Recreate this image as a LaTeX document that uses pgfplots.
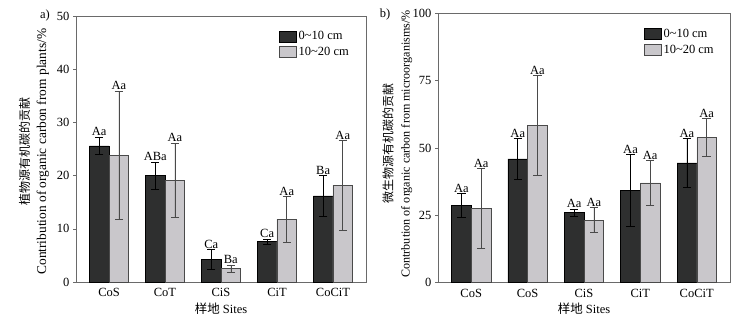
\documentclass[border=0pt]{standalone}
\usepackage{pgfplots}
\pgfplotsset{compat=1.18}
\usepackage{fontspec}
\setmainfont{Liberation Serif}
\newfontfamily\cjk{Noto Sans CJK SC}
\definecolor{darkbar}{HTML}{2E2F2F}
\definecolor{lightbar}{HTML}{C9C7CB}
\definecolor{axisgray}{HTML}{6A6A6A}
\definecolor{errgray}{HTML}{4A4A4A}
\newcommand{\fs}{\fontsize{12.5}{14}\selectfont}
\newcommand{\fl}{\fontsize{13.4}{15}\selectfont}
\newcommand{\flb}{\fontsize{12.1}{14}\selectfont}
\newcommand{\fc}{\cjk\fontsize{12}{15}\selectfont}
\tikzset{lab/.style={above, inner sep=1pt, font=\fs}}
\pgfplotsset{
  myax/.style={
    scale only axis, ybar, bar width=0.35,
    xmin=-0.59, xmax=4.59, ymin=0,
    xtick={0,1,2,3,4}, ytick pos=left,
    tick align=outside, major tick length=3pt,
    x tick style={draw=none},
    y tick style={axisgray, line width=0.5pt},
    axis line style={axisgray, line width=0.6pt},
    font=\fs, tick label style={font=\fs},
    /pgf/number format/assume math mode=true,
    ylabel style={align=center, anchor=center},
    xlabel style={font=\fs, yshift=1pt},
    error bars/y dir=both, error bars/y explicit,
    legend style={draw=none, fill=none, font=\fs, row sep=2pt,
      anchor=north west, inner sep=0pt},
    legend cell align=left,
    legend image code/.code={\draw[#1] (0pt,-5.5pt) rectangle (17pt,5.5pt);},
  },
  darkp/.style={fill=darkbar, draw=black, line width=0.5pt, bar shift=-0.175,
    error bars/error bar style={black, line width=0.6pt},
    error bars/error mark options={rotate=90, mark size=4.2pt, black, line width=0.6pt}},
  lightp/.style={fill=lightbar, draw=errgray, line width=0.5pt, bar shift=0.175,
    error bars/error bar style={errgray, line width=0.6pt},
    error bars/error mark options={rotate=90, mark size=4.2pt, errgray, line width=0.6pt}},
}
\begin{document}
\begin{tikzpicture}
\useasboundingbox (0,0) rectangle (738pt,321pt);
% Panel a
\begin{axis}[myax, at={(76pt,39pt)}, anchor=south west, width=290pt, height=266pt,
  ymax=50, ytick={0,10,20,30,40,50},
  xticklabels={CoS,CoT,CiS,CiT,CoCiT},
  ylabel style={at={(axis description cs:-0.145,0.49)}},
  ylabel={{\fc 植物源有机碳的贡献}\\[3pt]{\fl Contribution of organic carbon from plants/\%}},
  xlabel={{\cjk 样地} Sites},
  legend style={at={(rel axis cs:0.70,0.95)}}]
\addplot[darkp] coordinates {(0,25.6) +- (0,1.6) (1,20.0) +- (0,2.5) (2,4.2) +- (0,1.9) (3,7.6) +- (0,0.5) (4,16.2) +- (0,3.8)};
\addplot[lightp] coordinates {(0,23.8) +- (0,12.1) (1,19.1) +- (0,7.0) (2,2.5) +- (0,0.7) (3,11.8) +- (0,4.3) (4,18.2) +- (0,8.4)};
\legend{0\textasciitilde 10 cm, 10\textasciitilde 20 cm}
\node[lab] at (axis cs:-0.175,27.2) {Aa};
\node[lab] at (axis cs:0.175,35.9) {Aa};
\node[lab] at (axis cs:0.825,22.5) {ABa};
\node[lab] at (axis cs:1.175,26.1) {Aa};
\node[lab] at (axis cs:1.825,6.1) {Ca};
\node[lab] at (axis cs:2.175,3.2) {Ba};
\node[lab] at (axis cs:2.825,8.1) {Ca};
\node[lab] at (axis cs:3.175,16.1) {Aa};
\node[lab] at (axis cs:3.825,20.0) {Ba};
\node[lab] at (axis cs:4.175,26.6) {Aa};
\end{axis}
\node[font=\fs] at (45pt,306pt) {a)};
% Panel b
\begin{axis}[myax, at={(438pt,38.5pt)}, anchor=south west, width=292pt, height=269pt,
  ymax=100, ytick={0,25,50,75,100},
  xticklabels={CoS,CoS,CiS,CiT,CoCiT},
  ylabel style={at={(axis description cs:-0.139,0.515)}},
  ylabel={{\fc 微生物源有机碳的贡献}\\[3pt]{\flb Contrbution of organic carbon from microorganisms/\%}},
  xlabel={{\cjk 样地} Sites},
  legend style={at={(rel axis cs:0.705,0.95)}}]
\addplot[darkp] coordinates {(0,28.7) +- (0,4.3) (1,46.0) +- (0,7.6) (2,26.0) +- (0,1.3) (3,34.3) +- (0,13.4) (4,44.5) +- (0,9.1)};
\addplot[lightp] coordinates {(0,27.5) +- (0,14.9) (1,58.5) +- (0,18.5) (2,23.2) +- (0,4.6) (3,37.0) +- (0,8.3) (4,53.9) +- (0,7.0)};
\legend{0\textasciitilde 10 cm, 10\textasciitilde 20 cm}
\node[lab] at (axis cs:-0.175,33.1) {Aa};
\node[lab] at (axis cs:0.175,42.4) {Aa};
\node[lab] at (axis cs:0.825,53.5) {Aa};
\node[lab] at (axis cs:1.175,76.8) {Aa};
\node[lab] at (axis cs:1.825,27.3) {Aa};
\node[lab] at (axis cs:2.175,27.8) {Aa};
\node[lab] at (axis cs:2.825,47.6) {Aa};
\node[lab] at (axis cs:3.175,45.2) {Aa};
\node[lab] at (axis cs:3.825,53.5) {Aa};
\node[lab] at (axis cs:4.175,61.0) {Aa};
\end{axis}
\node[font=\fs] at (385pt,307pt) {b)};
\end{tikzpicture}
\end{document}
